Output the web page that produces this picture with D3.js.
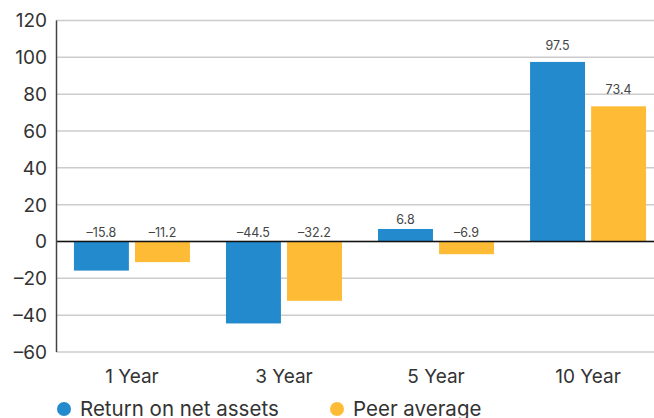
<!DOCTYPE html>
<head>
  <meta charset="utf-8">
  <title>Returns vs peers</title>
  <script src="https://cdn.jsdelivr.net/npm/d3@7"></script>
  <style>
  body { margin: 0; background: #fff; }
  text { font-family: Inter, "Noto Sans", sans-serif; fill: #333; }
  .grid line { stroke: #ccc; stroke-width: 1.5px; }
  </style>
</head>
<body>
  <script type="text/javascript">
    var WIDTH = 654;
    var HEIGHT = 418;

    var categories = ["1 Year", "3 Year", "5 Year", "10 Year"];
    var seriesNames = ["Return on net assets", "Peer average"];
    var returnOnNetAssets = [-15.8, -44.5, 6.8, 97.5];
    var peerAverage = [-11.2, -32.2, -6.9, 73.4];
    var yTicks = [-60, -40, -20, 0, 20, 40, 60, 80, 100, 120];
    var colors = ["#238bcd", "#febb36"];

    var rows = categories.map(function(c, i){
      return {cat: c, values: [returnOnNetAssets[i], peerAverage[i]]};
    });

    var svg = d3.select("body").append("svg")
                .attr("width", WIDTH)
                .attr("height", HEIGHT);

    var x = d3.scaleBand().domain(categories).range([56, 664]).paddingInner(0.237).paddingOuter(0.118);
    var x1 = d3.scaleBand().domain([0, 1]).range([0, x.bandwidth()]).paddingInner(0.1);
    var y = d3.scaleLinear().domain([-60, 120]).range([352, 20.5]);

    // grid
    svg.append("g").attr("class", "grid")
      .selectAll("line").data(yTicks).enter().append("line")
      .attr("x1", 56).attr("x2", WIDTH)
      .attr("y1", function(d){ return y(d); })
      .attr("y2", function(d){ return y(d); });

    // y labels
    svg.append("g").selectAll("text").data(yTicks).enter().append("text")
      .attr("x", 47).attr("y", function(d){ return y(d); })
      .attr("dy", "0.36em")
      .attr("text-anchor", "end")
      .style("font-size", "19px")
      .text(function(d){ return d < 0 ? "\u2013" + Math.abs(d) : d; });

    // bars
    var groups = svg.append("g").selectAll("g").data(rows).enter().append("g")
      .attr("transform", function(d){ return "translate(" + x(d.cat) + ",0)"; });

    groups.selectAll("rect").data(function(d){ return d.values; }).enter().append("rect")
      .attr("x", function(d, i){ return x1(i); })
      .attr("width", x1.bandwidth())
      .attr("y", function(d){ return y(Math.max(d, 0)); })
      .attr("height", function(d){ return Math.abs(y(d) - y(0)); })
      .attr("fill", function(d, i){ return colors[i]; });

    groups.selectAll("text").data(function(d){ return d.values; }).enter().append("text")
      .attr("x", function(d, i){ return x1(i) + x1.bandwidth() / 2; })
      .attr("y", function(d){ return y(Math.max(d, 0)) - (d > 50 ? 12 : 5); })
      .attr("text-anchor", "middle")
      .style("font-size", "12.5px")
      .style("fill", "#444")
      .text(function(d){ return d < 0 ? "\u2013" + Math.abs(d).toFixed(1) : d.toFixed(1); });

    // zero line + y axis line
    svg.append("line").attr("x1", 56).attr("x2", WIDTH)
      .attr("y1", y(0)).attr("y2", y(0))
      .attr("stroke", "#111").attr("stroke-width", 1.5);
    svg.append("line").attr("x1", 56.5).attr("x2", 56.5)
      .attr("y1", y(120)).attr("y2", y(-60))
      .attr("stroke", "#444").attr("stroke-width", 1.5);

    // category labels
    svg.append("g").selectAll("text").data(categories).enter().append("text")
      .attr("x", function(d){ return x(d) + x.bandwidth() / 2; })
      .attr("y", 383)
      .attr("text-anchor", "middle")
      .style("font-size", "19px")
      .text(function(d){ return d; });

    // legend
    var legendX = [64, 337];
    var legend = svg.append("g").selectAll("g").data(seriesNames).enter().append("g")
      .attr("transform", function(d, i){ return "translate(" + legendX[i] + ",409)"; });
    legend.append("circle").attr("r", 7).attr("fill", function(d, i){ return colors[i]; });
    legend.append("text").attr("x", 16).attr("dy", "0.36em")
      .style("font-size", "20.5px")
      .text(function(d){ return d; });
  </script>
</body>
